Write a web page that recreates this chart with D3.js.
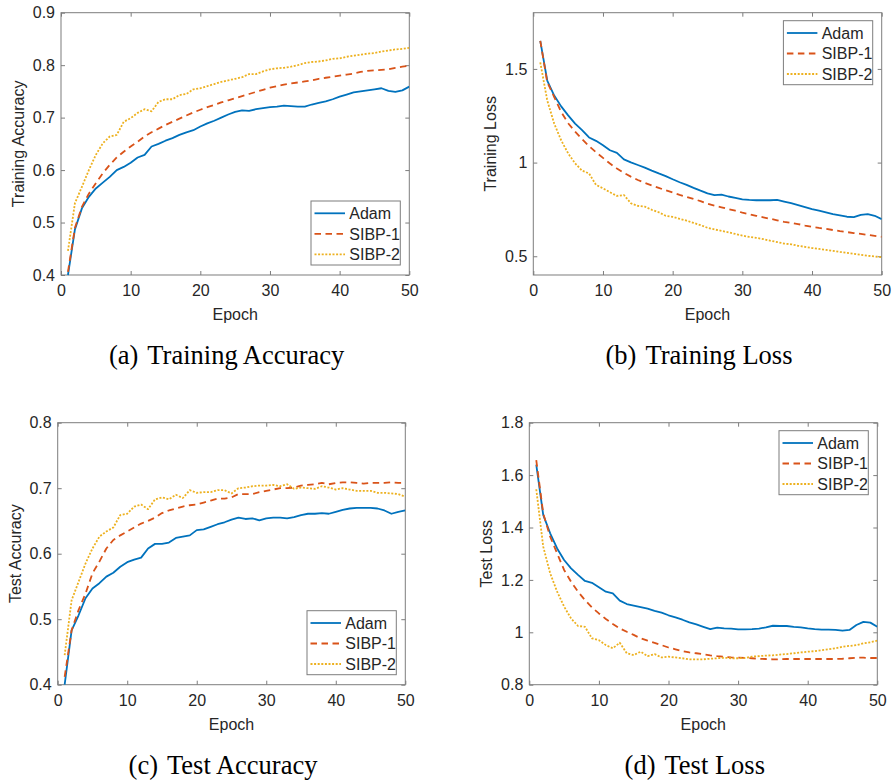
<!DOCTYPE html>
<html>
<head>
<meta charset="utf-8">
<script src="https://cdn.jsdelivr.net/npm/d3@7"></script>
<style>
  html, body { margin: 0; padding: 0; background: #fff; }
  svg { display: block; }
</style>
</head>
<body>
<svg id="chart" width="892" height="780"></svg>
<script>
// Epochs 1..50
const epochs = d3.range(1, 51);
const seriesNames = ["Adam", "SIBP-1", "SIBP-2"];
const xTicks = [0, 10, 20, 30, 40, 50];

// (a) Training accuracy
const trainAccAdam = [0.400,0.487,0.527,0.549,0.565,0.576,0.587,0.600,0.606,0.614,
  0.624,0.629,0.645,0.650,0.656,0.661,0.667,0.672,0.676,0.683,
  0.689,0.694,0.700,0.706,0.711,0.714,0.713,0.716,0.718,0.720,
  0.721,0.723,0.722,0.721,0.721,0.725,0.728,0.731,0.735,0.740,
  0.744,0.748,0.750,0.752,0.754,0.756,0.751,0.749,0.752,0.759];
const trainAccSIBP1 = [0.406,0.490,0.530,0.555,0.575,0.594,0.610,0.624,0.635,0.645,
  0.654,0.664,0.672,0.679,0.686,0.692,0.698,0.704,0.710,0.715,
  0.720,0.724,0.729,0.733,0.737,0.741,0.745,0.749,0.753,0.757,
  0.760,0.763,0.765,0.767,0.769,0.771,0.774,0.776,0.778,0.780,
  0.782,0.784,0.787,0.789,0.790,0.791,0.792,0.795,0.797,0.799];
const trainAccSIBP2 = [0.446,0.537,0.568,0.600,0.629,0.651,0.664,0.667,0.692,0.699,
  0.709,0.716,0.712,0.730,0.735,0.735,0.743,0.745,0.754,0.756,
  0.760,0.764,0.768,0.771,0.774,0.777,0.783,0.783,0.788,0.792,
  0.794,0.795,0.797,0.800,0.804,0.806,0.807,0.809,0.812,0.813,
  0.816,0.818,0.820,0.822,0.823,0.826,0.828,0.830,0.831,0.833];

// (b) Training loss
const trainLossAdam = [1.650,1.438,1.358,1.300,1.252,1.208,1.173,1.134,1.116,1.093,
  1.066,1.052,1.017,1.001,0.987,0.973,0.957,0.942,0.928,0.911,
  0.895,0.881,0.865,0.850,0.836,0.826,0.829,0.819,0.812,0.804,
  0.801,0.799,0.799,0.799,0.801,0.792,0.783,0.773,0.762,0.751,
  0.743,0.734,0.725,0.718,0.711,0.709,0.721,0.725,0.716,0.698];
const trainLossSIBP1 = [1.650,1.430,1.350,1.270,1.210,1.165,1.125,1.088,1.055,1.025,
  0.995,0.968,0.945,0.925,0.907,0.892,0.878,0.865,0.852,0.840,
  0.828,0.817,0.806,0.794,0.780,0.770,0.761,0.752,0.743,0.733,
  0.724,0.716,0.708,0.700,0.692,0.684,0.678,0.672,0.664,0.657,
  0.651,0.646,0.640,0.634,0.629,0.624,0.619,0.614,0.609,0.604];
const trainLossSIBP2 = [1.535,1.332,1.208,1.119,1.049,0.996,0.957,0.942,0.881,0.863,
  0.842,0.822,0.827,0.783,0.769,0.765,0.748,0.735,0.716,0.710,
  0.700,0.690,0.678,0.666,0.652,0.643,0.636,0.628,0.619,0.610,
  0.603,0.598,0.592,0.583,0.576,0.568,0.564,0.556,0.550,0.544,
  0.539,0.534,0.529,0.523,0.518,0.513,0.508,0.503,0.499,0.495];

// (c) Test accuracy
const testAccAdam = [0.400,0.483,0.506,0.532,0.547,0.555,0.565,0.571,0.580,0.587,
  0.591,0.594,0.608,0.615,0.615,0.617,0.624,0.626,0.628,0.636,
  0.637,0.641,0.645,0.648,0.652,0.655,0.653,0.654,0.651,0.654,
  0.655,0.655,0.654,0.656,0.659,0.661,0.661,0.662,0.661,0.664,
  0.667,0.669,0.670,0.670,0.670,0.669,0.666,0.661,0.664,0.666];
const testAccSIBP1 = [0.412,0.483,0.514,0.539,0.570,0.588,0.608,0.621,0.628,0.634,
  0.640,0.646,0.650,0.655,0.662,0.666,0.669,0.672,0.674,0.675,
  0.678,0.681,0.684,0.684,0.686,0.691,0.691,0.691,0.694,0.696,
  0.698,0.700,0.700,0.701,0.704,0.705,0.706,0.708,0.706,0.708,
  0.709,0.709,0.708,0.707,0.708,0.708,0.708,0.709,0.708,0.708];
const testAccSIBP2 = [0.445,0.529,0.557,0.585,0.608,0.626,0.634,0.640,0.659,0.661,
  0.672,0.675,0.668,0.683,0.686,0.683,0.690,0.685,0.697,0.693,
  0.694,0.694,0.697,0.697,0.692,0.700,0.701,0.703,0.704,0.704,
  0.705,0.703,0.706,0.699,0.701,0.700,0.699,0.703,0.701,0.698,
  0.700,0.698,0.696,0.696,0.696,0.693,0.693,0.692,0.691,0.687];

// (d) Test loss
const testLossAdam = [1.640,1.448,1.378,1.320,1.276,1.244,1.219,1.196,1.189,1.172,
  1.155,1.149,1.121,1.108,1.102,1.096,1.090,1.082,1.075,1.065,
  1.057,1.048,1.038,1.030,1.021,1.012,1.018,1.015,1.014,1.011,
  1.011,1.012,1.014,1.019,1.025,1.024,1.024,1.021,1.019,1.015,
  1.012,1.010,1.010,1.009,1.006,1.009,1.028,1.040,1.037,1.021];
const testLossSIBP1 = [1.657,1.454,1.365,1.301,1.238,1.193,1.155,1.123,1.095,1.072,
  1.051,1.032,1.015,1.002,0.990,0.977,0.968,0.960,0.951,0.942,
  0.935,0.928,0.923,0.920,0.916,0.912,0.909,0.907,0.904,0.903,
  0.902,0.901,0.899,0.898,0.897,0.897,0.898,0.898,0.898,0.898,
  0.898,0.898,0.898,0.898,0.899,0.901,0.903,0.903,0.902,0.902];
const testLossSIBP2 = [1.546,1.327,1.225,1.155,1.098,1.053,1.024,1.021,0.977,0.970,
  0.951,0.939,0.960,0.920,0.913,0.926,0.909,0.917,0.904,0.907,
  0.904,0.901,0.897,0.897,0.897,0.899,0.901,0.903,0.901,0.901,
  0.902,0.907,0.909,0.911,0.912,0.915,0.917,0.920,0.923,0.926,
  0.928,0.932,0.935,0.939,0.945,0.948,0.951,0.958,0.962,0.968];

// Tick values for each panel's y axis
const yTicksTrainAcc = [0.4, 0.5, 0.6, 0.7, 0.8, 0.9];
const yTicksTrainLoss = [0.5, 1, 1.5];
const yTicksTestAcc = [0.4, 0.5, 0.6, 0.7, 0.8];
const yTicksTestLoss = [0.8, 1, 1.2, 1.4, 1.6, 1.8];

// Panel layout and styling
const colors = ["#0072BD", "#D95319", "#EDB120"];
const dashes = [null, "6.5,4.5", "2,1.6"];
const axisColor = "#7d7d7d";
const textColor = "#262626";
const sansFont = "'Liberation Sans', Arial, Helvetica, sans-serif";
const serifFont = "'Liberation Serif', 'Times New Roman', Times, serif";

const panels = [
  { tag: "(a)", title: "Training Accuracy", ylabel: "Training Accuracy",
    series: [trainAccAdam, trainAccSIBP1, trainAccSIBP2],
    yDomain: [0.4, 0.9], yTicks: yTicksTrainAcc,
    box: { left: 61, right: 409.3, top: 12.7, bottom: 275 }, legend: "bottom" },
  { tag: "(b)", title: "Training Loss", ylabel: "Training Loss",
    series: [trainLossAdam, trainLossSIBP1, trainLossSIBP2],
    yDomain: [0.4, 1.8], yTicks: yTicksTrainLoss,
    box: { left: 533.3, right: 881.7, top: 12.7, bottom: 275 }, legend: "top" },
  { tag: "(c)", title: "Test Accuracy", ylabel: "Test Accuracy",
    series: [testAccAdam, testAccSIBP1, testAccSIBP2],
    yDomain: [0.4, 0.8], yTicks: yTicksTestAcc,
    box: { left: 57.7, right: 405.3, top: 422.7, bottom: 684.7 }, legend: "bottom" },
  { tag: "(d)", title: "Test Loss", ylabel: "Test Loss",
    series: [testLossAdam, testLossSIBP1, testLossSIBP2],
    yDomain: [0.8, 1.8], yTicks: yTicksTestLoss,
    box: { left: 529.3, right: 877.3, top: 422.7, bottom: 684.7 }, legend: "top" }
];

const svg = d3.select("#chart");
const tickLen = 4;

panels.forEach((p, i) => {
  const b = p.box;
  const w = b.right - b.left, h = b.bottom - b.top;
  const x = d3.scaleLinear().domain([0, 50]).range([0, w]);
  const y = d3.scaleLinear().domain(p.yDomain).range([h, 0]);
  const g = svg.append("g").attr("transform", `translate(${b.left},${b.top})`);

  const clipId = "clip" + i;
  g.append("clipPath").attr("id", clipId)
    .append("rect").attr("x", 0).attr("y", -1).attr("width", w).attr("height", h + 2);

  // Inward ticks on all four sides
  const yFmt = v => String(+v.toFixed(2));
  const styleAxis = sel => {
    sel.select(".domain").remove();
    sel.selectAll(".tick line").attr("stroke", axisColor).attr("stroke-width", 1);
    sel.selectAll(".tick text").attr("fill", textColor)
      .style("font-family", sansFont).style("font-size", "16px");
  };
  g.append("g").attr("transform", `translate(0,${h})`)
    .call(d3.axisBottom(x).tickValues(xTicks).tickSizeInner(-tickLen).tickSizeOuter(0).tickPadding(10))
    .call(styleAxis)
    .call(s => s.selectAll(".tick text").attr("dy", "0.71em").attr("y", 9.5));
  g.append("g")
    .call(d3.axisTop(x).tickValues(xTicks).tickSizeInner(-tickLen).tickSizeOuter(0).tickFormat(""))
    .call(styleAxis);
  g.append("g")
    .call(d3.axisLeft(y).tickValues(p.yTicks).tickFormat(yFmt).tickSizeInner(-tickLen).tickSizeOuter(0).tickPadding(10))
    .call(styleAxis)
    .call(s => s.selectAll(".tick text").attr("x", -6));
  g.append("g").attr("transform", `translate(${w},0)`)
    .call(d3.axisRight(y).tickValues(p.yTicks).tickSizeInner(-tickLen).tickSizeOuter(0).tickFormat(""))
    .call(styleAxis);

  // Frame
  g.append("rect").attr("x", 0).attr("y", 0).attr("width", w).attr("height", h)
    .attr("fill", "none").attr("stroke", axisColor).attr("stroke-width", 1);

  // Series lines
  const line = d3.line().x((d, k) => x(epochs[k])).y(d => y(d));
  p.series.forEach((vals, s) => {
    g.append("path").datum(vals)
      .attr("clip-path", `url(#${clipId})`)
      .attr("d", line)
      .attr("fill", "none")
      .attr("stroke", colors[s])
      .attr("stroke-width", 1.8)
      .attr("stroke-linejoin", "round")
      .attr("stroke-dasharray", dashes[s]);
  });

  // Axis labels
  g.append("text").attr("x", w / 2).attr("y", h + 45)
    .attr("text-anchor", "middle").attr("fill", textColor)
    .style("font-family", sansFont).style("font-size", "16px").text("Epoch");
  g.append("text")
    .attr("transform", `translate(-37,${h / 2}) rotate(-90)`)
    .attr("text-anchor", "middle").attr("fill", textColor)
    .style("font-family", sansFont).style("font-size", "16px").text(p.ylabel);

  // Legend
  const lw = 89.3, lh = 64;
  const lx = w - 9 - lw;
  const ly = p.legend === "top" ? 8 : h - 10 - lh;
  const lg = g.append("g").attr("transform", `translate(${lx},${ly})`);
  lg.append("rect").attr("width", lw).attr("height", lh)
    .attr("fill", "#fff").attr("stroke", axisColor).attr("stroke-width", 1);
  seriesNames.forEach((name, s) => {
    const ry = 12.3 + s * 20.5;
    lg.append("line").attr("x1", 3.5).attr("x2", 34).attr("y1", ry).attr("y2", ry)
      .attr("stroke", colors[s]).attr("stroke-width", 1.8)
      .attr("stroke-dasharray", dashes[s]);
    lg.append("text").attr("x", 38.3).attr("y", ry).attr("dy", "0.36em")
      .attr("fill", textColor)
      .style("font-family", sansFont).style("font-size", "16px").text(name);
  });

  // Sub-figure caption
  const cap = g.append("text").attr("x", w / 2 - 8.5).attr("y", h + 89)
    .attr("text-anchor", "middle").attr("fill", "#000")
    .style("font-family", serifFont).style("font-size", "26.5px");
  cap.append("tspan").text(p.tag);
  cap.append("tspan").attr("dx", 9).text(p.title);
});
</script>
</body>
</html>
